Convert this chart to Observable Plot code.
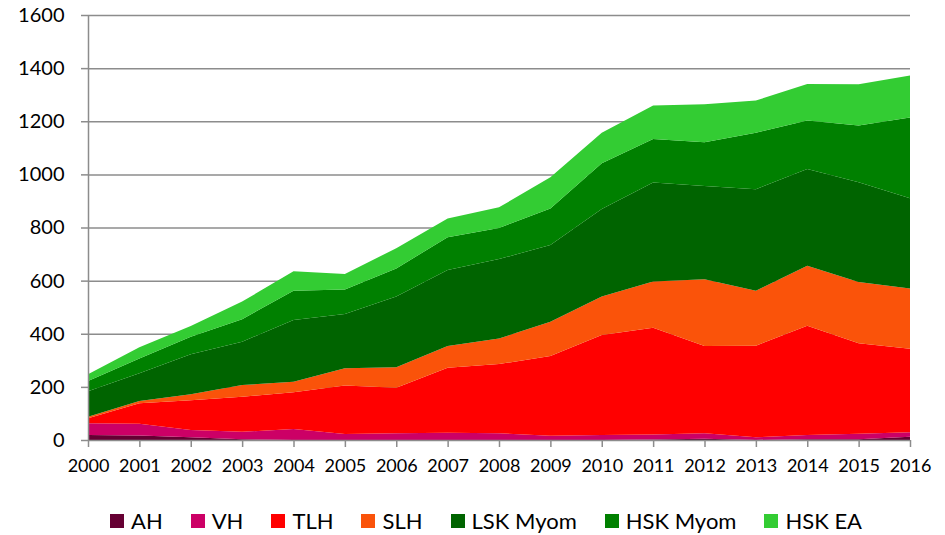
<!DOCTYPE html>
<html><head><meta charset="utf-8">
<script src="https://cdn.jsdelivr.net/npm/d3@7"></script>
<script src="https://cdn.jsdelivr.net/npm/@observablehq/plot@0.6"></script>
<style>
body{margin:0;background:#fff;font-family:Lato,"Open Sans",sans-serif;}
#chart{width:945px;height:535px;position:relative;overflow:hidden}
.legend{display:flex;justify-content:center;align-items:center;height:61px;font-size:22px;color:#000;padding-left:27px;box-sizing:border-box;width:945px}
.item{display:flex;align-items:center;margin-right:28px}
.item:last-child{margin-right:0}
.sw{width:14px;height:14px;margin-right:7px}
</style></head><body><div id="chart"></div><script>
const years = [2000,2001,2002,2003,2004,2005,2006,2007,2008,2009,2010,2011,2012,2013,2014,2015,2016];
const seriesNames = ["AH","VH","TLH","SLH","LSK Myom","HSK Myom","HSK EA"];
const AH      = [19,17,10,3,0,0,0,0,0,0,0,2,5,0,3,3,12];
const VH      = [44,44,28,28,41,23,25,27,25,16,19,19,20,10,16,21,17];
const TLH     = [19,77,112,132,139,182,172,245,261,300,376,402,329,345,411,340,315];
const SLH     = [6,9,22,44,39,65,77,82,96,129,145,174,251,207,226,231,226];
const LSKMyom = [96,104,151,163,233,204,266,286,299,289,330,372,351,382,364,375,340];
const HSKMyom = [38,56,66,85,110,93,106,123,117,138,172,164,165,213,183,214,304];
const HSKEA   = [26,42,40,66,73,58,76,71,78,117,115,126,143,121,137,155,158];
const colors  = ["#660033","#CC0066","#FF0000","#FA530A","#006400","#008000","#33CC33"];
const yTicks  = [0,200,400,600,800,1000,1200,1400,1600];

const seriesValues = [AH,VH,TLH,SLH,LSKMyom,HSKMyom,HSKEA];
const table = [];
seriesNames.forEach((s,i)=>years.forEach((yr,j)=>table.push({year:yr,series:s,value:seriesValues[i][j]})));

const grid = "#8c8c8c";
const plot = Plot.plot({
  width:945,height:490,
  marginLeft:88,marginRight:35,marginTop:15,marginBottom:50,
  style:{fontFamily:"Lato, 'Open Sans', sans-serif",fontSize:"20px",color:"#000",background:"#fff"},
  x:{domain:[2000,2016],label:null},
  y:{domain:[0,1600],label:null},
  color:{domain:seriesNames,range:colors},
  marks:[
    Plot.ruleY(yTicks.slice(1),{stroke:grid,strokeWidth:1.5}),
    Plot.areaY(table,{x:"year",y:"value",z:"series",fill:"series",order:seriesNames}),
    Plot.ruleX([2000],{stroke:grid,strokeWidth:1.5}),
    Plot.ruleY([0],{stroke:grid,strokeWidth:1.5}),
    Plot.axisY({ticks:yTicks,tickSize:7,tickPadding:17,stroke:grid,strokeWidth:1.5,fill:"#000",fontSize:20,tickFormat:d=>String(d),label:null}),
    Plot.axisX({ticks:years,tickSize:7,tickPadding:12,stroke:grid,strokeWidth:1.5,fill:"#000",fontSize:18,tickFormat:d=>String(d),label:null})
  ]
});
const chart = document.getElementById("chart");
chart.appendChild(plot);
const legend = document.createElement("div");
legend.className = "legend";
seriesNames.forEach((s,i)=>{
  const it = document.createElement("div"); it.className="item";
  const sw = document.createElement("span"); sw.className="sw"; sw.style.background=colors[i];
  const t = document.createElement("span"); t.textContent=s;
  it.appendChild(sw); it.appendChild(t); legend.appendChild(it);
});
chart.appendChild(legend);
</script></body></html>
